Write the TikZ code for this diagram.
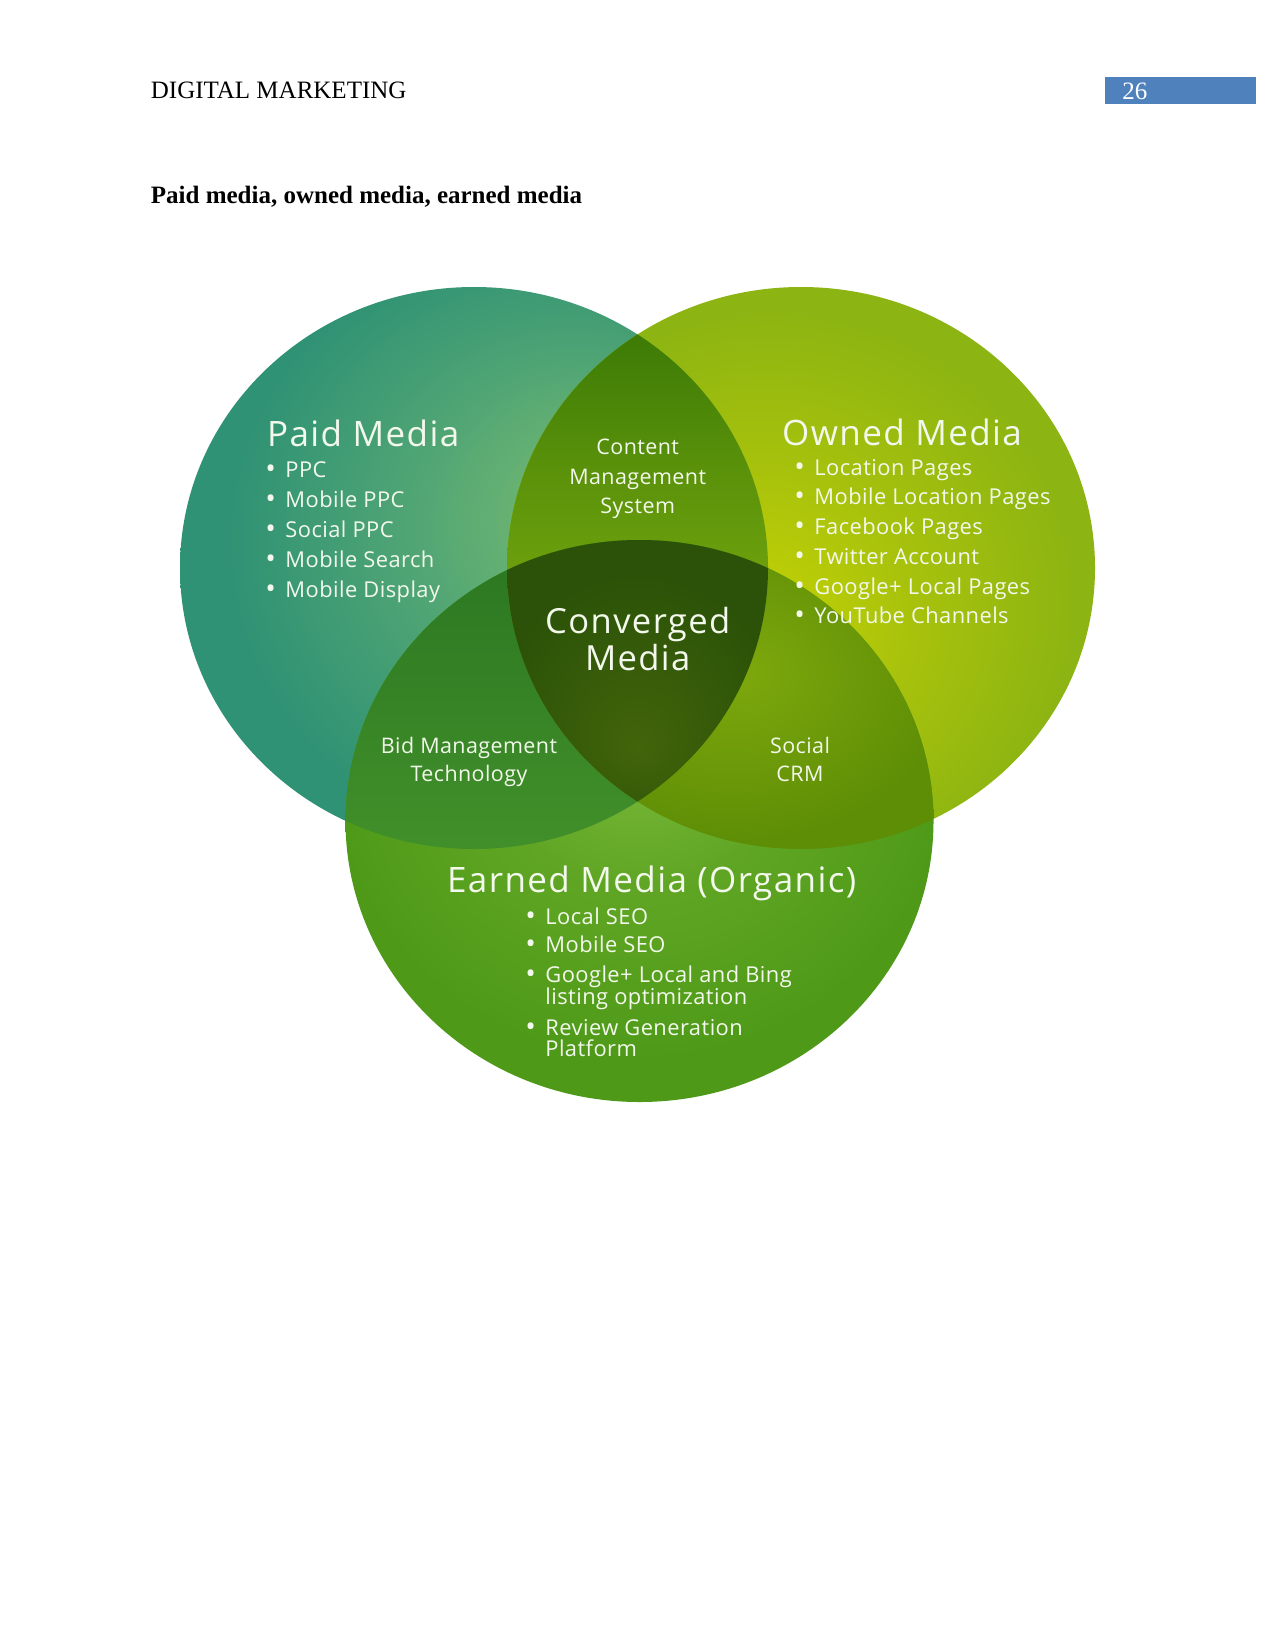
\documentclass[tikz,border=0pt]{standalone}
\usepackage{fontspec}
\setmainfont{Liberation Serif}
\newfontfamily\vfa[LetterSpace=2]{Open Sans}
\newfontfamily\vfb[LetterSpace=4]{Open Sans}
\definecolor{pageblue}{HTML}{4F81BD}
\definecolor{txtc}{HTML}{F3F8EC}
\definecolor{paidInner}{HTML}{82C070}
\definecolor{paidMid}{HTML}{52A674}
\definecolor{paidOuter}{HTML}{2F9274}
\definecolor{ownInner}{HTML}{C8D402}
\definecolor{ownMid}{HTML}{A8C20C}
\definecolor{ownOuter}{HTML}{8CB412}
\definecolor{earnInner}{HTML}{84BE42}
\definecolor{earnMid}{HTML}{60A624}
\definecolor{earnOuter}{HTML}{4E9A18}
\definecolor{lensTopA}{HTML}{3C7A06}
\definecolor{lensTopB}{HTML}{74A60E}
\definecolor{bidA}{HTML}{2A7622}
\definecolor{bidB}{HTML}{42902A}
\definecolor{socInner}{HTML}{7EA80C}
\definecolor{socOuter}{HTML}{5E8E06}
\definecolor{cenInner}{HTML}{42640A}
\definecolor{cenOuter}{HTML}{2B5208}
\pgfdeclareradialshading{paidshade}{\pgfpoint{13bp}{5bp}}{color(0bp)=(paidInner); color(14bp)=(paidMid); color(27bp)=(paidOuter); color(50bp)=(paidOuter)}
\pgfdeclareradialshading{ownshade}{\pgfpoint{-5bp}{-6bp}}{color(0bp)=(ownInner); color(13bp)=(ownMid); color(26bp)=(ownOuter); color(50bp)=(ownOuter)}
\pgfdeclareradialshading{earnshade}{\pgfpoint{0bp}{10bp}}{color(0bp)=(earnInner); color(13bp)=(earnMid); color(26bp)=(earnOuter); color(50bp)=(earnOuter)}
\pgfdeclareradialshading{socshade}{\pgfpoint{2bp}{4bp}}{color(0bp)=(socInner); color(25bp)=(socOuter); color(50bp)=(socOuter)}
\pgfdeclareradialshading{censhade}{\pgfpoint{0bp}{-14bp}}{color(0bp)=(cenInner); color(25bp)=(cenOuter); color(50bp)=(cenOuter)}
\def\LE{(474,568) ellipse [x radius=141.12pt, y radius=134.88pt]}
\def\RE{(801,568) ellipse [x radius=141.12pt, y radius=134.88pt]}
\def\BE{(639.5,821) ellipse [x radius=141.12pt, y radius=134.88pt]}
\newcommand\vbul{\makebox[9.6pt][l]{\fontsize{13.5}{13}\selectfont\raisebox{-0.5pt}{•}}}
\tikzset{
  vtxt/.style={text=txtc, inner sep=0pt},
  vhead/.style={vtxt, font=\vfb\fontsize{16.8}{19}\selectfont, anchor=base west},
  vitem/.style={vtxt, font=\vfa\fontsize{10.5}{13}\selectfont, anchor=base west},
  vmid/.style={vtxt, font=\vfa\fontsize{10.3}{13}\selectfont, anchor=base},
  vconv/.style={vtxt, font=\vfb\fontsize{16.6}{19}\selectfont, anchor=base},
  pagetxt/.style={inner sep=0pt, anchor=base west, font=\fontsize{12}{14}\selectfont}
}
\begin{document}
\begin{tikzpicture}[x=0.48pt,y=-0.48pt]
\useasboundingbox (0,0) rectangle (1275,1651);
\fill[white] (0,0) rectangle (1275,1651);
% header
\node[pagetxt] (hdr) at (150.5,99) {DIGITAL MARKETING};
\fill[pageblue] (1105.4,77) rectangle (1256,104.2);
\node[pagetxt, text=white] (pnum) at (1122,99.5) {26};
\node[pagetxt, font=\bfseries\fontsize{12}{14}\selectfont] (ttl) at (150.5,204) {Paid media, owned media, earned media};
% circles
\shade[shading=paidshade] \LE;
\shade[shading=ownshade] \RE;
\shade[shading=earnshade] \BE;
% paid & owned lens
\begin{scope}
  \clip \LE; \clip \RE;
  \shade[top color=lensTopA, bottom color=lensTopB, middle color=lensTopB!55!lensTopA] (500,330) rectangle (775,620);
\end{scope}
% paid & earned lens
\begin{scope}
  \clip \LE; \clip \BE;
  \shade[shading=axis, shading angle=45, top color=bidA, bottom color=bidB] (340,535) rectangle (775,855);
\end{scope}
% owned & earned lens
\begin{scope}
  \clip \RE; \clip \BE;
  \shade[shading=socshade] (500,535) rectangle (940,855);
\end{scope}
% center
\begin{scope}
  \clip \LE; \clip \RE; \clip \BE;
  \shade[shading=censhade] (500,535) rectangle (775,810);
\end{scope}
% Paid media
\node[vhead] (paid) at (266.7,446.7) {Paid Media};
\node[vitem] (p1) at (265,477.3) {\vbul PPC};
\node[vitem] (p2) at (265,507.3) {\vbul Mobile PPC};
\node[vitem] (p3) at (265,537.3) {\vbul Social PPC};
\node[vitem] (p4) at (265,567.3) {\vbul Mobile Search};
\node[vitem] (p5) at (265,597.3) {\vbul Mobile Display};
% Owned media
\node[vhead] (owned) at (781.7,445) {Owned Media};
\node[vitem] (o1) at (794,475) {\vbul Location Pages};
\node[vitem] (o2) at (794,504.7) {\vbul Mobile Location Pages};
\node[vitem] (o3) at (794,534.5) {\vbul Facebook Pages};
\node[vitem] (o4) at (794,564.3) {\vbul Twitter Account};
\node[vitem] (o5) at (794,594) {\vbul Google+ Local Pages};
\node[vitem] (o6) at (794,623.7) {\vbul YouTube Channels};
% middle labels
\node[vmid] (cms1) at (637.7,454.3) {Content};
\node[vmid] (cms2) at (637.7,484.3) {Management};
\node[vmid] (cms3) at (637.7,513.3) {System};
\node[vconv] (cv1) at (637.7,633) {Converged};
\node[vconv] (cv2) at (637.7,670.7) {Media};
\node[vmid] (bid1) at (469,753.3) {Bid Management};
\node[vmid] (bid2) at (469,781.7) {Technology};
\node[vmid] (soc1) at (800,753.3) {Social};
\node[vmid] (soc2) at (800,781.7) {CRM};
% Earned media
\node[vhead] (earned) at (446.7,892.7) {Earned Media (Organic)};
\node[vitem] (e1) at (525,924) {\vbul Local SEO};
\node[vitem] (e2) at (525,952.7) {\vbul Mobile SEO};
\node[vitem] (e3) at (525,982.7) {\vbul Google+ Local and Bing};
\node[vitem] (e3b) at (545,1004) {listing optimization};
\node[vitem] (e4) at (525,1035) {\vbul Review Generation};
\node[vitem] (e4b) at (545,1056.7) {Platform};
\end{tikzpicture}
\end{document}
